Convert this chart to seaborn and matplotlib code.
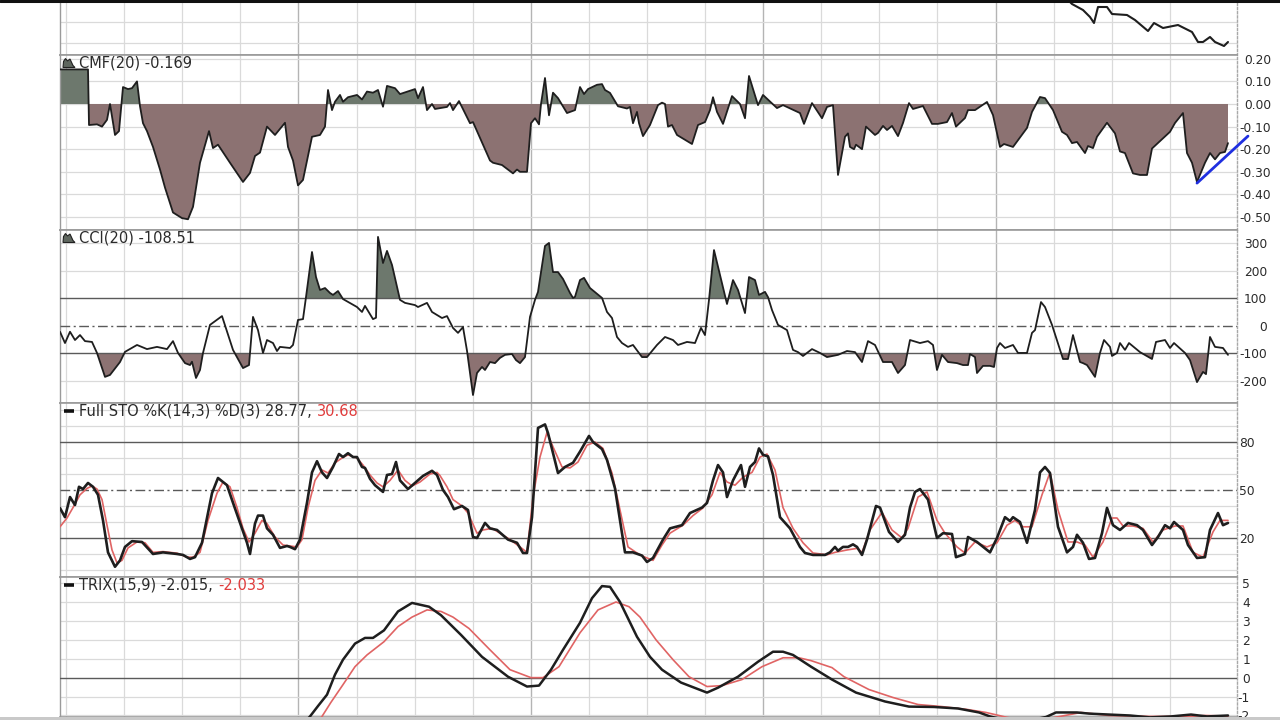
import matplotlib
matplotlib.use("Agg")
import matplotlib.pyplot as plt
import seaborn as sns
from matplotlib.lines import Line2D
from matplotlib.patches import Polygon, Rectangle

# ---------------- data (x = trading-session index) ----------------
price = [(200, 31.2), (201.6, 30.7), (202.4, 30.3), (204.6, 29.7), (206, 29.0), (206.8, 28.4),
         (207.6, 30.0), (209.4, 30.0), (210.4, 29.3), (213.4, 29.2), (215, 28.7), (217.6, 27.6),
         (218.8, 28.4), (220.6, 27.9), (223.6, 28.2), (226.4, 27.5), (227.6, 26.5), (228.6, 26.5),
         (230, 27.0), (231, 26.5), (232.8, 26.1), (233.6, 26.5)]

cmf = [(0, 0.153), (5.6, 0.153), (5.8, -0.093), (7.4, -0.09), (8.4, -0.10), (9.4, -0.07), (10, 0.0),
       (11, -0.137), (11.8, -0.12), (12.6, 0.075), (13.6, 0.066), (14.4, 0.07), (15.4, 0.10), (16, -0.01),
       (16.6, -0.085), (17.4, -0.12), (18.6, -0.19), (20, -0.29), (21, -0.37), (22.6, -0.48), (24.4, -0.505),
       (25.6, -0.51), (26.6, -0.455), (28, -0.26), (29.8, -0.12), (30.6, -0.195), (31.6, -0.18), (34, -0.26),
       (36.6, -0.345), (38, -0.305), (39, -0.23), (40, -0.215), (41.4, -0.10), (43, -0.137), (45, -0.083),
       (45.6, -0.19), (46.6, -0.25), (47.6, -0.36), (48.6, -0.336), (50.4, -0.145), (52, -0.137), (53, -0.10),
       (53.6, 0.062), (54.4, -0.027), (55, 0.01), (56, 0.04), (56.6, 0.01), (57.6, 0.03), (59.4, 0.04),
       (60.4, 0.02), (61.4, 0.055), (62.6, 0.05), (63.6, 0.062), (64.6, -0.012), (65.4, 0.08), (67, 0.07),
       (68, 0.044), (71, 0.066), (71.6, 0.026), (72.6, 0.075), (73.4, -0.027), (74.4, 0.0), (75, -0.022),
       (77.4, -0.013), (78, 0.004), (78.6, -0.027), (79.8, 0.013), (81, -0.04), (82, -0.085), (82.6, -0.08),
       (83.4, -0.12), (86, -0.25), (86.6, -0.26), (88.4, -0.27), (90.6, -0.307), (91.4, -0.29), (92, -0.30),
       (93.4, -0.30), (94.2, -0.085), (95, -0.063), (95.8, -0.09), (96.2, 0.0), (97, 0.115), (97.8, -0.05),
       (98.6, 0.05), (99.6, 0.026), (101.4, -0.04), (103, -0.027), (104, 0.075), (104.8, 0.044),
       (105.6, 0.066), (107.4, 0.085), (108.4, 0.088), (109, 0.062), (110, 0.049), (111.6, -0.01),
       (113.4, -0.02), (114, -0.013), (114.6, -0.085), (115.4, -0.035), (115.8, -0.085), (116.6, -0.142),
       (118, -0.093), (119.6, -0.005), (120.4, 0.006), (121, 0.0), (121.6, -0.10), (122.4, -0.093),
       (123.4, -0.137), (126.4, -0.177), (127.6, -0.093), (129, -0.08), (130, -0.027), (130.6, 0.03),
       (131.4, -0.035), (132.6, -0.088), (134.4, 0.035), (136, 0.0), (137, -0.063), (137.8, 0.124),
       (139.6, -0.005), (140.6, 0.04), (143.4, -0.018), (144.6, -0.005), (148, -0.04), (148.8, -0.088),
       (150.4, 0.004), (152.4, -0.063), (153.4, -0.013), (154.6, -0.005), (155.6, -0.314), (157, -0.145),
       (157.6, -0.13), (158, -0.19), (158.8, -0.20), (159.2, -0.18), (160.4, -0.20), (161.2, -0.10),
       (163, -0.137), (163.6, -0.128), (164.6, -0.097), (165.4, -0.115), (166.4, -0.097), (167.6, -0.142),
       (168.6, -0.084), (169.8, 0.004), (170.6, -0.022), (172.6, -0.009), (174.4, -0.088), (175.6, -0.088),
       (177.4, -0.08), (178.4, -0.04), (179.2, -0.10), (181, -0.062), (181.6, -0.027), (183, -0.027),
       (185.4, 0.009), (186.6, -0.049), (188, -0.19), (188.8, -0.177), (190.6, -0.19), (193.4, -0.106),
       (194.4, -0.035), (196, 0.031), (197, 0.026), (198.6, -0.027), (200.4, -0.123), (201.4, -0.137),
       (202.4, -0.173), (203.4, -0.168), (205, -0.217), (205.6, -0.186), (206.6, -0.195), (207.4, -0.145),
       (209.4, -0.083), (211, -0.13), (212, -0.21), (213, -0.217), (214.6, -0.307), (216, -0.314),
       (217.4, -0.314), (218.4, -0.197), (222, -0.123), (223, -0.084), (224.6, -0.04), (225.4, -0.217),
       (226.4, -0.26), (227.4, -0.345), (229, -0.26), (230, -0.217), (231, -0.245), (232, -0.217),
       (233, -0.212), (233.6, -0.173)]
cmf_trend = [(227.4, -0.35), (237.6, -0.142)]

cci = [(0, -21), (1, -62), (2, -21), (3, -51), (4, -33), (5, -55), (6.4, -58), (7.4, -98), (9, -185),
       (10, -178), (12, -131), (13, -94), (15.4, -69), (17.4, -84), (19.4, -76), (21.4, -84), (22.6, -55),
       (23.6, -98), (25, -135), (26, -142), (26.4, -130), (27.2, -189), (28, -160), (28.6, -98), (30, 4),
       (32.4, 36), (34.6, -87), (36.6, -153), (37.8, -142), (38.6, 33), (39.6, -15), (40.6, -98),
       (41.4, -51), (42.6, -62), (43.4, -91), (44, -76), (46, -80), (46.6, -69), (47.6, 22), (48.6, 25),
       (49.2, 105), (50.4, 269), (51.2, 178), (52, 131), (53, 138), (54, 120), (54.6, 113), (55.6, 127),
       (56.6, 98), (59.4, 69), (60.4, 51), (61, 73), (62.6, 25), (63.2, 30), (63.6, 324), (64.6, 229),
       (65.4, 273), (66.4, 222), (68, 95), (69, 84), (71, 76), (71.6, 69), (73.4, 84), (74.4, 51),
       (76.4, 29), (77.4, 36), (78.6, -7), (79.6, -25), (80.6, -4), (81.4, -90), (82.6, -251),
       (83.4, -171), (84.4, -149), (85, -160), (86, -131), (87, -135), (88, -116), (89, -105),
       (90.4, -102), (91.2, -124), (92, -135), (93, -113), (94, 33), (95, 95), (95.6, 124), (97, 291),
       (97.8, 302), (98.6, 196), (99.6, 196), (100.6, 171), (102, 120), (102.6, 102), (103, 106),
       (104, 167), (104.8, 175), (106, 138), (108.4, 102), (109.4, 51), (110.4, 29), (111.4, -40),
       (112.4, -62), (113.6, -76), (114.6, -69), (116.4, -113), (117.4, -113), (119.4, -69), (121, -40),
       (122.6, -51), (123.6, -69), (125.4, -58), (127, -62), (128.2, -7), (129, -33), (129.8, 95),
       (130.8, 276), (133.4, 80), (134.6, 167), (135.6, 131), (137, 47), (137.8, 178), (139, 167),
       (139.8, 113), (141, 124), (141.6, 105), (142.4, 58), (143.6, 4), (145.4, -15), (146.6, -87),
       (147.6, -95), (148.6, -109), (150.4, -84), (152, -98), (153.4, -113), (155.6, -105), (157.4, -91),
       (159, -95), (160.4, -131), (161.6, -55), (163, -69), (164.6, -131), (166.4, -131), (167.6, -171),
       (169, -142), (170, -51), (172, -62), (173.6, -55), (174.6, -69), (175.4, -160), (176.4, -105),
       (177.6, -131), (179.4, -135), (180.6, -142), (181.6, -142), (182, -102), (183, -113), (183.4, -171),
       (184.6, -145), (186, -145), (186.8, -149), (187.4, -80), (188, -62), (189, -80), (190.6, -69),
       (191.6, -98), (193.4, -98), (194.4, -25), (195, -15), (196.2, 87), (197, 69), (198.4, 4),
       (200.6, -120), (201.6, -120), (202.6, -33), (204, -131), (204.6, -135), (205.4, -142), (207, -185),
       (208, -98), (208.8, -51), (210, -76), (210.4, -109), (211.4, -98), (212, -62), (213, -87),
       (213.8, -62), (216, -95), (218.4, -120), (219.2, -58), (221, -51), (222, -80), (222.8, -62),
       (225, -98), (226, -124), (227.4, -204), (228.6, -167), (229.2, -175), (230, -40), (231, -76),
       (232.6, -80), (233.6, -105)]

sto_k = [(0, 38.7), (1, 33), (2, 45.6), (3, 40.6), (3.8, 52), (4.6, 50.6), (5.6, 54.4), (6.6, 52), (7.6, 47),
         (8.6, 31), (9.6, 11), (11, 2), (12, 6), (13, 14.4), (14.4, 18), (16.4, 17.5), (18.6, 10), (20.6, 11),
         (23.4, 10), (24.6, 9.4), (26, 6.9), (27, 8), (28.4, 17), (30.4, 48), (31.6, 57.5), (33.4, 53),
         (34.6, 42), (36.4, 26), (37.4, 17), (38, 10), (39, 29), (39.6, 34), (40.6, 34), (41.4, 26), (42.6, 22),
         (44, 13.8), (45.4, 15), (46, 14.4), (47, 13), (48, 19), (49.4, 42), (50.4, 61), (51.4, 68), (52.4, 61),
         (53.4, 57.5), (54.6, 64.4), (55.8, 72.5), (56.6, 70.6), (57.6, 73), (58.6, 70.6), (59.4, 70.6),
         (60.4, 64.4), (61, 63.8), (62, 57), (63, 53), (64.6, 48.8), (65.4, 59.4), (66.4, 60), (67.2, 67.5),
         (68, 56), (69.6, 50.6), (71, 54.4), (72.6, 58.8), (74.4, 62), (75.4, 59.4), (76.6, 50), (77.6, 45.6),
         (78.8, 38), (80.4, 40), (81.6, 37.5), (82.6, 20.6), (83.4, 20), (85, 29.4), (86, 26), (87.4, 25),
         (89.6, 19), (91.4, 17), (92.6, 10.6), (93.4, 10.6), (94.4, 33), (95.6, 88.8), (97, 91), (97.6, 85.6),
         (99.6, 60.6), (101, 64.4), (102.6, 67), (104, 74), (105.8, 83.8), (106.6, 80), (108.4, 75.6),
         (109.4, 68.8), (111, 51), (113, 11), (114.6, 11), (116.4, 9), (117.4, 5), (118.6, 7.5), (120.6, 19),
         (122, 26), (124.4, 28), (126, 35.6), (128.4, 39), (129.4, 41.9), (130.6, 56), (131.6, 65.6),
         (132.6, 61), (133.4, 45.6), (134.6, 56), (136.2, 65.6), (137, 52), (138, 64.4), (139, 67.5),
         (139.8, 76), (140.6, 72), (141.6, 71), (142.6, 59.4), (144, 33), (146, 26), (148, 14.4), (149, 10.6),
         (150.6, 9.4), (153, 9.4), (154, 11), (155, 14.4), (155.6, 12), (156.6, 14.4), (157.6, 14.4),
         (158.6, 16), (159.4, 14.4), (160.4, 9.4), (161.4, 19), (163.2, 40), (164, 39), (165.8, 23.8),
         (167.6, 17.5), (169, 22), (170, 39), (171, 48.8), (172, 50.6), (173.6, 44), (175.4, 20), (176.6, 23),
         (178.4, 22.5), (179.2, 8), (181, 10), (181.6, 20.6), (183.4, 17.5), (186, 11), (187.4, 20), (189, 33),
         (190, 30.6), (190.6, 33), (192, 30), (193.4, 17), (195, 37.5), (196, 61), (197, 64.4), (198, 60.6),
         (199.6, 27), (201.4, 11), (202.6, 14.4), (203.4, 22), (204.6, 17), (205.8, 6.9), (207, 7.5),
         (208.4, 23), (209.4, 38.8), (210.6, 28), (212, 25), (213.6, 29.4), (215.4, 28), (216.6, 25),
         (218.4, 15.6), (219.6, 20.6), (221, 28), (222, 26), (222.8, 30), (224.6, 25), (225.6, 15.6),
         (227.4, 7.5), (229, 8), (230, 25), (231.6, 35.6), (232.6, 28), (233.6, 29.4)]

sto_d = [(0, 27), (1.4, 32.5), (2.6, 39), (4, 47), (5.4, 51), (6.4, 52.5), (7.4, 50.6), (8.4, 44), (9.4, 28),
         (10.4, 12.5), (11.4, 4.4), (12.4, 6), (13.6, 13.8), (15.4, 17.5), (17, 17), (18.6, 11), (20.6, 11.5),
         (23.4, 10.5), (25.4, 8), (26.6, 8), (28, 11), (29.6, 31), (31.4, 48), (32.6, 55), (34, 52),
         (35.4, 39), (36.6, 26), (37.8, 17.5), (39, 23), (40.4, 31), (41.4, 29), (43, 20.6), (44.6, 15.6),
         (46, 15), (47.4, 14.4), (48.4, 19), (49.6, 39), (51, 56), (52.4, 62.5), (53.6, 60.6), (55, 67),
         (56.4, 70), (57.6, 72), (59.4, 70), (60.6, 65.6), (62, 59.4), (63.4, 54.4), (64.6, 52), (66, 56),
         (67.6, 62.5), (69, 56), (70.4, 52.5), (72, 55), (74, 60), (75.4, 61), (76, 59), (77.4, 52), (78.6, 44),
         (80.4, 40), (81.6, 35.6), (83.4, 23), (84.6, 25), (86.4, 26), (88, 23), (90, 19), (92, 14.4),
         (93.4, 11), (94.6, 45.6), (96, 70.6), (97.4, 86), (98.6, 77), (100.4, 64.4), (102, 63.8),
         (103.6, 67.5), (105.4, 78), (107, 80), (108.6, 76), (110.4, 60.6), (112, 37.5), (113.6, 14.4),
         (115.4, 10.6), (117, 8), (118.6, 6), (120.4, 15.6), (122, 23), (124.6, 28), (126.6, 34),
         (128.6, 38.8), (130.4, 47), (132, 61), (133.4, 55), (135, 53), (136.6, 58), (138.4, 61), (140, 70.6),
         (141.4, 72.5), (143, 62.5), (144.6, 39), (146.6, 26), (148.6, 17), (150.6, 10.6), (153.4, 9.5),
         (155, 11), (157.4, 12.5), (159.4, 13.5), (160.4, 11), (162, 25), (164.4, 36), (166.4, 25),
         (168.4, 20), (169.6, 26), (171.6, 45.6), (173.4, 48.8), (175.4, 31), (177, 23), (179.4, 14.4),
         (181, 10.6), (183, 17.5), (185.4, 14.4), (187.4, 17), (189.4, 28), (191, 31), (192.6, 27),
         (194.4, 27), (196.4, 47), (198, 61), (199.6, 37.5), (201.6, 17.5), (203.4, 17.5), (205, 15.6),
         (206.6, 8), (208.6, 17.5), (210.4, 32.5), (211.4, 32.5), (212.6, 27.5), (214.6, 27.5), (216.6, 26),
         (218.6, 17.5), (220.6, 25), (223, 27.5), (224.6, 27.5), (226.6, 11), (228.6, 8), (230.6, 23.8),
         (232, 31), (233.6, 31)]

trix = [(48, -2.6), (50, -2.05), (51.6, -1.5), (53.4, -0.9), (55, 0.16), (56.6, 0.95), (59, 1.8), (61, 2.1),
        (62.6, 2.1), (64.8, 2.5), (67.6, 3.5), (70.4, 3.95), (73.8, 3.75), (76.2, 3.3), (80.2, 2.26),
        (84.4, 1.1), (89.6, 0.05), (93.4, -0.47), (95.8, -0.42), (98.2, 0.42), (100.6, 1.47), (104, 2.9),
        (106.4, 4.2), (108.4, 4.84), (110, 4.8), (112, 4.0), (115.4, 2.16), (118, 1.1), (120.4, 0.42),
        (124.2, -0.26), (129.4, -0.79), (131.6, -0.53), (135.6, 0.05), (139.6, 0.84), (142.6, 1.37),
        (144.6, 1.37), (146.6, 1.2), (150.2, 0.58), (154.4, -0.1), (159.2, -0.79), (165, -1.26),
        (169.8, -1.53), (174.8, -1.55), (179.6, -1.63), (183.8, -1.84), (186, -2.05), (190, -2.3),
        (194, -2.25), (197.2, -2.08), (199.2, -1.84), (203.4, -1.84), (205.8, -1.9), (209.8, -1.95),
        (214, -2.0), (218, -2.1), (222.2, -2.05), (226.2, -1.95), (229.4, -2.05), (233.6, -2.0)]

trix_sig = [(50, -2.7), (52.4, -2.05), (54.2, -1.3), (56.6, -0.37), (59, 0.58), (61.4, 1.2), (64.8, 1.9),
            (67.6, 2.7), (70.4, 3.2), (73.4, 3.58), (76.2, 3.5), (78.6, 3.2), (81.8, 2.6), (86, 1.47),
            (90, 0.42), (94.2, 0.0), (96.6, 0.0), (99.8, 0.58), (104, 2.37), (107.6, 3.58), (111.2, 4.0),
            (113.8, 3.75), (116, 3.2), (119.2, 2.0), (122.6, 0.95), (125.8, 0.05), (129.4, -0.47),
            (132.4, -0.42), (136.4, -0.1), (140.4, 0.58), (144.6, 1.05), (147.8, 1.05), (150.2, 0.9),
            (154.4, 0.53), (156.8, 0.05), (161.8, -0.63), (166.6, -1.05), (171.6, -1.42), (176.4, -1.53),
            (181.4, -1.68), (185.2, -1.84), (189.4, -2.1), (194, -2.3), (197, -2.2), (200, -2.05),
            (204.2, -1.84), (209.8, -2.0), (218, -2.05), (225.4, -2.05), (229, -2.0), (233.6, -2.03)]

cmf_ticks = [0.20, 0.10, 0.00, -0.10, -0.20, -0.30, -0.40, -0.50]
cmf_labels = ["0.20", "0.10", "0.00", "-0.10", "-0.20", "-0.30", "-0.40", "-0.50"]
cci_ticks = [300, 200, 100, 0, -100, -200]
sto_ticks = [80, 50, 20]
trix_ticks = [5, 4, 3, 2, 1, 0, -1, -2]

# ---------------- styling ----------------
sns.set_style("white")
plt.rcParams['font.family'] = ['DejaVu Sans']

POS = '#6d786d'
NEG = '#8c7272'
LINE = '#1e1e1e'
RED = '#e06464'
GRID = '#dadada'
GRID_DARK = '#b4b4b4'
REF = '#5a5a5a'
TXT = '#2a2a2a'

W_PX, H_PX = 1280, 720
fig = plt.figure(figsize=(12.8, 7.2), dpi=100)
fig.patch.set_facecolor('white')

LEFT, RIGHT = 60, 1237
XLIM = (0, (RIGHT - LEFT) / 5.0)
vgrid = [1.2 + 11.62 * k for k in range(20)]


def make_ax(top, bot):
    return fig.add_axes([LEFT / W_PX, 1 - bot / H_PX, (RIGHT - LEFT) / W_PX, (bot - top) / H_PX])


def base(ax, ylim, hlight, hdark=(), hdash=(), ticks=None, labels=None, pad=10):
    ax.set_xlim(*XLIM)
    ax.set_ylim(*ylim)
    ax.grid(False)
    ax.set_facecolor('white')
    for k, d in enumerate(vgrid):
        dark = (k % 4 == 0 and k > 0)
        ax.axvline(d, color=GRID_DARK if dark else GRID, lw=1.0 if dark else 0.9, zorder=0)
    for h in hlight:
        ax.axhline(h, color=GRID, lw=0.9, zorder=0)
    for h in hdark:
        ax.axhline(h, color=REF, lw=1.0, zorder=3)
    for h in hdash:
        ax.axhline(h, color=REF, lw=1.0, ls=(0, (7, 2.5, 1.5, 2.5)), zorder=3)
    ax.set_xticks([])
    ax.set_xlabel('')
    ax.set_ylabel('')
    ax.tick_params(axis='y', which='both', length=0, left=False, right=False,
                   labelleft=False, labelright=True, pad=pad, labelsize=8.8, labelcolor=TXT)
    if ticks is not None:
        ax.set_yticks(ticks)
        ax.set_yticklabels(labels if labels else [str(t) for t in ticks])
        for lab in ax.get_yticklabels():
            lab.set_ha('right')
    else:
        ax.set_yticks([])
    for s in ['top', 'bottom']:
        ax.spines[s].set_color('#9a9a9a')
        ax.spines[s].set_linewidth(1.2)
    ax.spines['left'].set_color('#9a9a9a')
    ax.spines['left'].set_linewidth(1.0)
    ax.spines['right'].set_color('#a8a8a8')
    ax.spines['right'].set_linewidth(1.0)
    ax.spines['right'].set_linestyle((0, (1.5, 1.5)))


def xy(pairs):
    return [p[0] for p in pairs], [p[1] for p in pairs]


# price panel (partial)
ax_p = make_ax(2, 55)
base(ax_p, (25.2, 30.5), [26.4, 28.5])
px, py = xy(price)
sns.lineplot(x=px, y=py, ax=ax_p, color=LINE, linewidth=1.5, estimator=None, sort=False, legend=False)

# CMF panel
ax_c = make_ax(55, 230)
base(ax_c, (-0.5575, 0.2168), cmf_ticks, ticks=cmf_ticks, labels=cmf_labels, pad=24.5)
cx, cy = xy(cmf)
ax_c.fill_between(cx, cy, 0, where=[v >= 0 for v in cy], interpolate=True, color=POS, lw=0, zorder=2)
ax_c.fill_between(cx, cy, 0, where=[v <= 0 for v in cy], interpolate=True, color=NEG, lw=0, zorder=2)
sns.lineplot(x=cx, y=cy, ax=ax_c, color=LINE, linewidth=1.3, estimator=None, sort=False, legend=False, zorder=4)
tx, ty = xy(cmf_trend)
ax_c.plot(tx, ty, color='#1f2fe0', lw=2.0, clip_on=False, zorder=6, solid_capstyle='round')

# CCI panel
ax_i = make_ax(230, 403)
base(ax_i, (-280, 349), [300, 200, -200], hdark=[100, -100], hdash=[0],
     ticks=cci_ticks, labels=[str(t) for t in cci_ticks], pad=21.6)
ix, iy = xy(cci)
ax_i.fill_between(ix, iy, 100, where=[v >= 100 for v in iy], interpolate=True, color=POS, lw=0, zorder=2)
ax_i.fill_between(ix, iy, -100, where=[v <= -100 for v in iy], interpolate=True, color=NEG, lw=0, zorder=2)
sns.lineplot(x=ix, y=iy, ax=ax_i, color=LINE, linewidth=1.3, estimator=None, sort=False, legend=False, zorder=4)

# Full stochastics
ax_s = make_ax(403, 577)
base(ax_s, (-4.4, 104.4), [0, 10, 30, 40, 60, 70, 90, 100], hdark=[20, 80], hdash=[50],
     ticks=sto_ticks, labels=[str(t) for t in sto_ticks], pad=13)
dx, dy = xy(sto_d)
kx, ky = xy(sto_k)
sns.lineplot(x=dx, y=dy, ax=ax_s, color=RED, linewidth=1.2, estimator=None, sort=False, legend=False, zorder=4)
sns.lineplot(x=kx, y=ky, ax=ax_s, color=LINE, linewidth=1.9, estimator=None, sort=False, legend=False, zorder=5)

# TRIX
ax_t = make_ax(577, 717)
base(ax_t, (-2.08, 5.32), [5, 4, 3, 2, 1, -1, -2], hdark=[0],
     ticks=trix_ticks, labels=[str(t) for t in trix_ticks], pad=9.4)
sx, sy = xy(trix_sig)
tx2, ty2 = xy(trix)
sns.lineplot(x=sx, y=sy, ax=ax_t, color=RED, linewidth=1.2, estimator=None, sort=False, legend=False, zorder=4)
sns.lineplot(x=tx2, y=ty2, ax=ax_t, color=LINE, linewidth=1.8, estimator=None, sort=False, legend=False, zorder=5)


# ---------------- titles ----------------
def fx(p):
    return p / W_PX


def fy(p):
    return 1 - p / H_PX


def area_icon(top):
    base_y = top + 12.5
    pts = [(63, base_y), (63.5, base_y - 6), (65.5, base_y - 9), (67.5, base_y - 6.5), (70, base_y - 8.5),
           (73, base_y - 2), (75, base_y)]
    poly = Polygon([(fx(a), fy(b)) for a, b in pts], closed=True, transform=fig.transFigure,
                   facecolor='#5e665e', edgecolor='#202020', lw=0.8, zorder=10)
    fig.add_artist(poly)


def line_icon(top):
    yy = fy(top + 8)
    fig.add_artist(Line2D([fx(63.5), fx(74)], [yy, yy], transform=fig.transFigure, color='#111111', lw=2.6,
                          solid_capstyle='butt', zorder=10))


def title(top, text, red=None, ax=None):
    t = fig.text(fx(79), fy(top + 8), text, fontsize=10.5, color=TXT, va='center', ha='left', zorder=10)
    if red is not None:
        ax.annotate(red, xy=(1, 0.5), xycoords=t, xytext=(3.8, 0), textcoords='offset points',
                    va='center', ha='left', fontsize=10.5, color='#e03c3c', annotation_clip=False, zorder=10)
    return t


area_icon(55)
title(55, "CMF(20) -0.169")
area_icon(230)
title(230, "CCI(20) -108.51")
line_icon(403)
title(403, "Full STO %K(14,3) %D(3) 28.77,", red="30.68", ax=ax_s)
line_icon(577)
title(577, "TRIX(15,9) -2.015,", red="-2.033", ax=ax_t)

# frame decorations: black top rule and grey bottom strip
fig.add_artist(Line2D([0, 1], [fy(1), fy(1)], transform=fig.transFigure, color='#111111', lw=2.2, zorder=20))
fig.add_artist(Rectangle((0, 0), 1, 3.5 / H_PX, transform=fig.transFigure, facecolor='#c9c9c9',
                         edgecolor='none', zorder=20))

fig.savefig('out.png', dpi=100)
